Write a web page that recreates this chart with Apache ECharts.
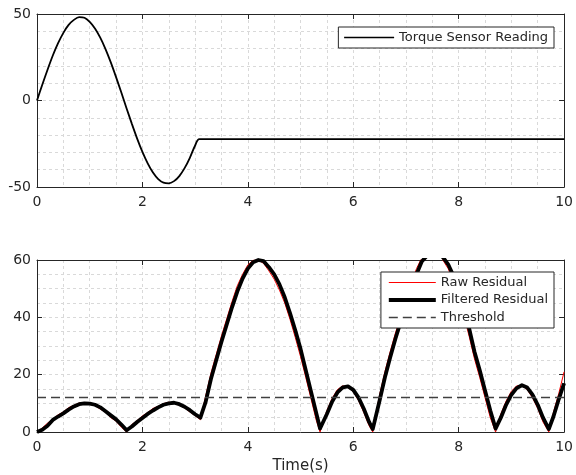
<!DOCTYPE html>
<html>
<head>
<meta charset="utf-8">
<script src="https://cdn.jsdelivr.net/npm/echarts@6/dist/echarts.min.js"></script>
<style>
  html, body { margin: 0; padding: 0; background: #fff; }
  #chart { width: 576px; height: 475px; }
</style>
</head>
<body>
<div id="chart"></div>
<script>
// top plot: torque sensor reading
const torqueTime = [0, 0.1, 0.2, 0.3, 0.4, 0.5, 0.6, 0.7, 0.8, 0.9, 1.0, 1.1, 1.2, 1.3, 1.4, 1.5, 1.6,
  1.7, 1.8, 1.9, 2.0, 2.1, 2.2, 2.3, 2.4, 2.5, 2.6, 2.7, 2.8, 2.9, 3.0, 3.08, 10];
const torque = [0, 9.1, 17.8, 26.0, 33.1, 39.1, 43.7, 46.6, 48.2, 47.8, 45.4, 41.6, 36.3, 29.7, 22.0, 13.5, 4.6,
  -4.6, -13.5, -22.0, -29.7, -36.3, -41.6, -45.4, -47.5, -47.9, -46.6, -43.7, -39.1, -33.1, -26.0, -22.3, -22.3];

// bottom plot: residuals
const resTime = [0, 0.1, 0.2, 0.3, 0.4, 0.5, 0.6, 0.7, 0.8, 0.9, 1.0, 1.1, 1.2, 1.3, 1.4, 1.5, 1.6, 1.7,
  1.8, 1.9, 2.0, 2.1, 2.2, 2.3, 2.4, 2.5, 2.6, 2.7, 2.8, 2.9, 3.0, 3.1,
  3.2, 3.3, 3.4, 3.5, 3.6, 3.7, 3.8, 3.9, 4.0, 4.1, 4.2, 4.3, 4.4, 4.5, 4.6, 4.7, 4.8, 4.9, 5.0, 5.1, 5.2, 5.3,
  5.37, 5.5, 5.6, 5.7, 5.8, 5.9, 6.0, 6.1, 6.2, 6.3, 6.37,
  6.5, 6.6, 6.7, 6.8, 6.9, 7.0, 7.1, 7.2, 7.3, 7.4, 7.5, 7.6, 7.7, 7.8, 7.9, 8.0, 8.1, 8.2, 8.3, 8.4, 8.5, 8.6, 8.7,
  8.8, 8.9, 9.0, 9.1, 9.2, 9.3, 9.4, 9.5, 9.6, 9.71, 9.8, 9.9, 10.0];
const rawResidual = [0, 1.4, 3.1, 4.5, 6.0, 7.0, 8.5, 9.3, 10.1, 10.3, 9.7, 9.2, 8.0, 6.9, 5.0, 3.8, 1.7, 0,
  2.6, 4.0, 5.6, 6.8, 8.2, 9.0, 9.9, 10.4, 10.0, 9.3, 8.4, 7.0, 5.7, 4.3,
  12.5, 20.5, 27, 33.5, 39.5, 45.5, 51, 55, 58.3, 59.9, 60, 58.8, 56.2, 53.3, 49.5, 45, 39.3, 33, 26.3, 19, 11.5, 4,
  0, 7.5, 11.8, 14.8, 16.1, 15.6, 14.0, 11.0, 6.8, 2.2, 0,
  13, 21, 28, 34.5, 40.5, 46.5, 52, 57, 60.8, 62.3, 62.8, 62, 60, 57, 52.5, 47.3, 40.5, 33.3, 25.5, 19, 12, 5, 0,
  6.3, 10.8, 14.2, 16.1, 16.2, 14.8, 12.0, 8.2, 3.5, 0, 7, 13.5, 21];
const filteredResidual = [0, 0.8, 2.2, 4.2, 5.4, 6.5, 7.8, 8.9, 9.7, 10.0, 9.9, 9.5, 8.6, 7.2, 5.8, 4.4, 2.6, 0.6,
  1.9, 3.5, 4.9, 6.3, 7.5, 8.6, 9.5, 10.0, 10.2, 9.7, 8.8, 7.6, 6.2, 5.0,
  10.5, 18.5, 25, 31.5, 37.5, 43.5, 49, 53.5, 57, 59.2, 60, 59.6, 57.5, 55, 51.5, 47, 41.5, 35.5, 29, 21.5, 14, 6.5,
  1.2, 6.3, 10.6, 13.8, 15.6, 15.9, 14.7, 12.0, 8.1, 3.5, 1.0,
  11, 19, 26, 32.5, 38.5, 44.5, 50, 55, 59.5, 61.5, 62.5, 62.3, 61, 58.5, 54.5, 49.5, 43, 36, 28, 21.5, 14.5, 7.5, 1.2,
  5, 9.5, 13, 15.3, 16.3, 15.5, 13, 9.5, 5, 1.0, 5.5, 11.5, 17];
const thresholdTime = [0, 10];
const threshold = [12, 12];

const xTicks = [0, 10, 2];
const topYTicks = [-50, 50, 50];
const bottomYTicks = [0, 60, 20];

const axisColor = "#262626";
const gridLine = { color: "#d9d9d9", width: 1, type: [3, 3] };
const font = "DejaVu Sans";

const pairs = (xs, ys) => xs.map((x, i) => [x, ys[i]]);

// main axis (with labels and dotted grid)
function mainAxis(gridIndex, pos, ticks, minorN) {
  return {
    type: "value", gridIndex, position: pos,
    min: ticks[0], max: ticks[1], interval: ticks[2],
    axisLine: { show: true, onZero: false, lineStyle: { color: axisColor, width: 1 } },
    axisTick: { show: true, inside: true, length: 5, lineStyle: { color: axisColor } },
    axisLabel: { color: axisColor, fontFamily: font, fontSize: 14, margin: pos === "left" ? 6 : 8 },
    splitLine: { show: true, lineStyle: gridLine },
    minorTick: { show: false, splitNumber: minorN },
    minorSplitLine: { show: true, lineStyle: gridLine }
  };
}

// opposite side axis, just the box line and ticks
function boxAxis(gridIndex, pos, ticks) {
  return {
    type: "value", gridIndex, position: pos,
    min: ticks[0], max: ticks[1], interval: ticks[2],
    axisLine: { show: true, onZero: false, lineStyle: { color: axisColor, width: 1 } },
    axisTick: { show: true, inside: true, length: 5, lineStyle: { color: axisColor } },
    axisLabel: { show: false },
    splitLine: { show: false }
  };
}

const legendBase = {
  right: 22,
  orient: "vertical",
  borderColor: axisColor, borderWidth: 1, borderRadius: 0,
  backgroundColor: "#fff",
  itemStyle: { opacity: 0 },
  textStyle: { color: axisColor, fontFamily: font, fontSize: 13 }
};

const chart = echarts.init(document.getElementById("chart"), null, { renderer: "canvas" });

const xBottom2 = mainAxis(1, "bottom", xTicks, 4);
xBottom2.name = "Time(s)";
xBottom2.nameLocation = "middle";
xBottom2.nameGap = 27;
xBottom2.nameTextStyle = { color: axisColor, fontFamily: font, fontSize: 15 };

chart.setOption({
  animation: false,
  backgroundColor: "#fff",
  textStyle: { fontFamily: font },
  grid: [
    { left: 37, top: 14, width: 530, height: 173 },
    { left: 37, top: 260, width: 530, height: 172 }
  ],
  xAxis: [
    mainAxis(0, "bottom", xTicks, 4),
    boxAxis(0, "top", xTicks),
    xBottom2,
    boxAxis(1, "top", xTicks)
  ],
  yAxis: [
    mainAxis(0, "left", topYTicks, 5),
    boxAxis(0, "right", topYTicks),
    mainAxis(1, "left", bottomYTicks, 4),
    boxAxis(1, "right", bottomYTicks)
  ],
  legend: [
    Object.assign({}, legendBase, {
      data: [{ name: "Torque Sensor Reading", lineStyle: { width: 1.5 } }],
      top: 27,
      itemWidth: 50, itemHeight: 14,
      padding: [4, 6, 4, 5]
    }),
    Object.assign({}, legendBase, {
      data: [
        { name: "Raw Residual", lineStyle: { width: 1 } },
        { name: "Filtered Residual", lineStyle: { width: 3.8 } },
        { name: "Threshold", lineStyle: { width: 1.3 } }
      ],
      top: 272,
      itemWidth: 47, itemHeight: 14, itemGap: 4.5,
      padding: [4, 6, 4, 6]
    })
  ],
  series: [
    {
      name: "Torque Sensor Reading", type: "line",
      xAxisIndex: 0, yAxisIndex: 0,
      data: pairs(torqueTime, torque),
      smooth: 0.3, symbol: "none",
      lineStyle: { color: "#000", width: 1.8 },
      itemStyle: { color: "#000" }
    },
    {
      name: "Raw Residual", type: "line",
      xAxisIndex: 2, yAxisIndex: 2,
      data: pairs(resTime, rawResidual),
      symbol: "none",
      lineStyle: { color: "#ff0000", width: 1 },
      itemStyle: { color: "#ff0000" }
    },
    {
      name: "Filtered Residual", type: "line",
      xAxisIndex: 2, yAxisIndex: 2,
      data: pairs(resTime, filteredResidual),
      symbol: "none",
      lineStyle: { color: "#000", width: 3.8, join: "round" },
      itemStyle: { color: "#000" }
    },
    {
      name: "Threshold", type: "line",
      xAxisIndex: 2, yAxisIndex: 2,
      data: pairs(thresholdTime, threshold),
      symbol: "none",
      lineStyle: { color: "#404040", width: 1.5, type: [9, 5] },
      itemStyle: { color: "#404040" }
    }
  ]
});
</script>
</body>
</html>
